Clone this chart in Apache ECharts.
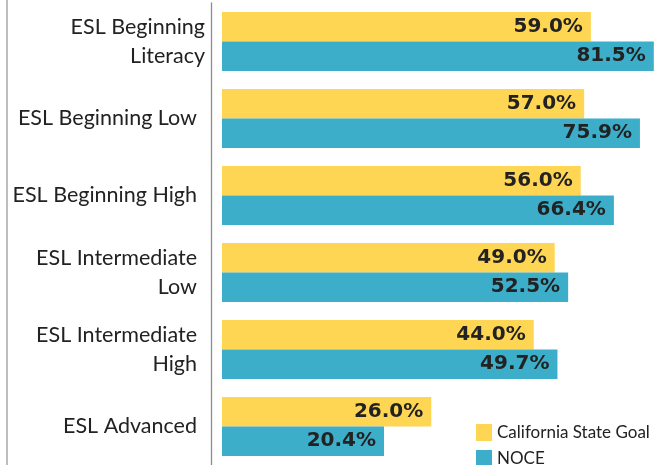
<!DOCTYPE html>
<html>
<head>
<meta charset="utf-8">
<script src="https://cdn.jsdelivr.net/npm/echarts@6/dist/echarts.min.js"></script>
<style>
  html, body { margin: 0; padding: 0; background: #fff; }
  #main { width: 667px; height: 465px; }
</style>
</head>
<body>
<div id="main"></div>
<script>
// 数据
const categories = ['ESL Beginning\nLiteracy', 'ESL Beginning Low', 'ESL Beginning High', 'ESL Intermediate\nLow', 'ESL Intermediate\nHigh', 'ESL Advanced'];
const stateGoal = [59.0, 57.0, 56.0, 49.0, 44.0, 26.0];
const noce = [81.5, 75.9, 66.4, 52.5, 49.7, 20.4];
const seriesNames = ['California State Goal', 'NOCE'];

const chart = echarts.init(document.getElementById('main'), null, { renderer: 'canvas' });

const valueLabel = {
  show: true,
  position: 'insideRight',
  distance: 8,
  color: '#222',
  fontFamily: 'DejaVu Sans',
  fontWeight: 'bold',
  fontSize: 20,
  formatter: p => p.value.toFixed(1) + '%'
};

// 图例：两项分开放，竖排
const legendBase = {
  orient: 'vertical',
  left: 476,
  padding: 0,
  itemWidth: 16,
  itemHeight: 17,
  itemGap: 9,
  icon: 'rect',
  textStyle: { fontFamily: 'Lato', fontSize: 17, color: '#222' }
};

const option = {
  animation: false,
  grid: {
    left: 222,
    top: 3,
    width: 440,
    height: 468
  },
  legend: [
    Object.assign({}, legendBase, { top: 424, data: [seriesNames[0]] }),
    Object.assign({}, legendBase, { top: 450, data: [seriesNames[1]] })
  ],
  xAxis: {
    type: 'log',
    logBase: 10,
    min: 8.88,
    max: 85,
    startValue: 8.88,
    show: false
  },
  yAxis: {
    type: 'category',
    inverse: true,
    data: categories,
    offset: 11,
    axisTick: { show: false },
    axisLine: { lineStyle: { color: '#8c8c8c', width: 1.3 } },
    axisLabel: {
      margin: 6,
      fontFamily: 'Lato',
      fontSize: 21.5,
      lineHeight: 29,
      color: '#222',
      formatter: (v, i) => i === 0 ? v : '{b|' + v + '}',
      rich: {
        b: { fontFamily: 'Lato', fontSize: 21.5, lineHeight: 29, color: '#222', padding: [0, 8, 0, 0] }
      }
    }
  },
  graphic: [{
    type: 'line',
    shape: { x1: 7, y1: 0, x2: 7, y2: 465 },
    style: { stroke: '#9a9a9a', lineWidth: 1.3 }
  }],
  series: [{
    name: seriesNames[0],
    type: 'bar',
    data: stateGoal,
    barWidth: 29.5,
    barGap: '0%',
    itemStyle: { color: '#FFD653' },
    label: valueLabel
  }, {
    name: seriesNames[1],
    type: 'bar',
    data: noce,
    barWidth: 29.5,
    barGap: '0%',
    itemStyle: { color: '#3DAECA' },
    label: valueLabel
  }]
};

chart.setOption(option);
</script>
</body>
</html>
